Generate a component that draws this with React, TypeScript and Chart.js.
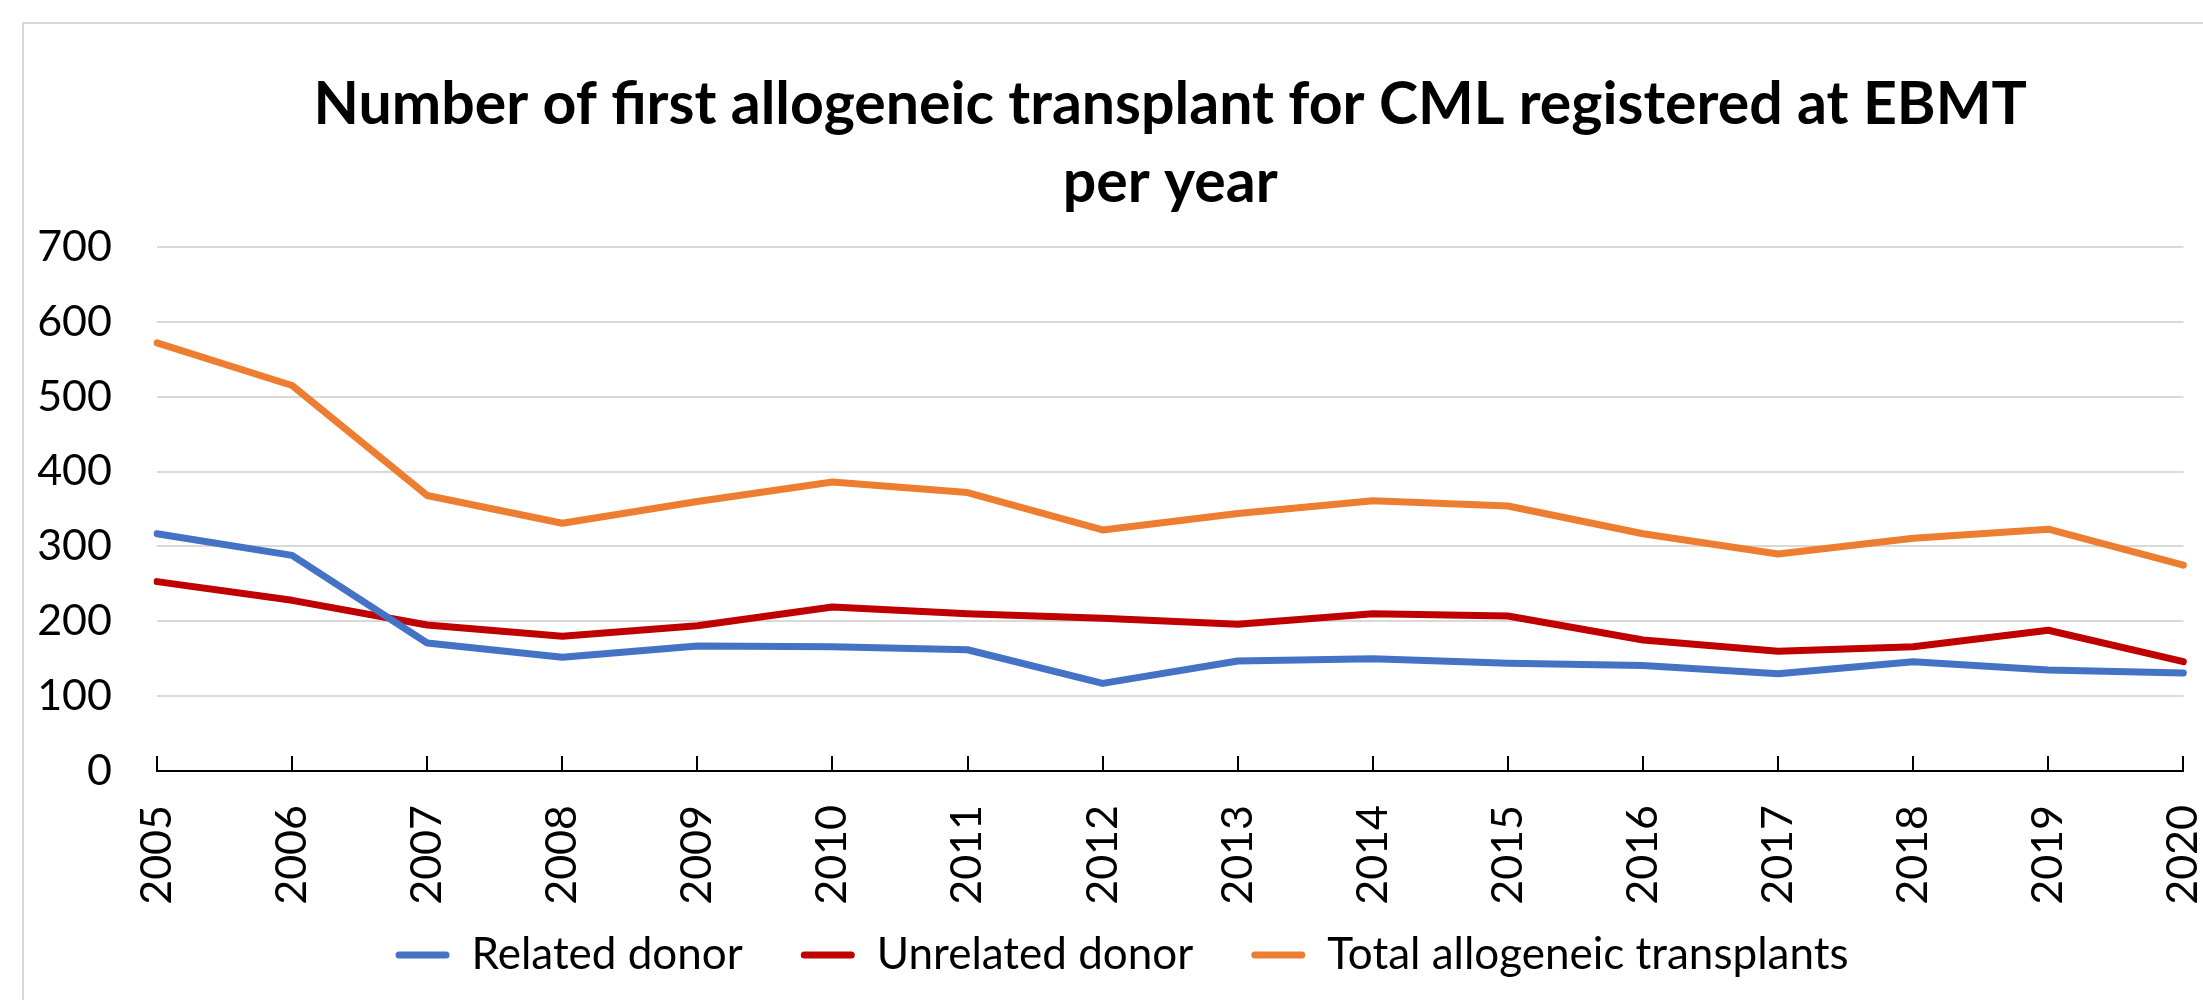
import React, { useEffect, useRef } from "react";
import { Chart, registerables } from "chart.js";

Chart.register(...registerables);

const years = ["2005", "2006", "2007", "2008", "2009", "2010", "2011", "2012", "2013", "2014", "2015", "2016", "2017", "2018", "2019", "2020"];
const relatedDonor = [317, 288, 171, 152, 167, 166, 162, 117, 147, 150, 144, 141, 130, 146, 135, 131];
const unrelatedDonor = [253, 228, 195, 180, 194, 219, 210, 204, 196, 210, 207, 175, 160, 166, 188, 146];
const totalTransplants = [572, 515, 368, 331, 360, 386, 372, 322, 344, 361, 354, 317, 290, 311, 323, 275];
const titleLines = ["Number of first allogeneic transplant for CML registered at EBMT", "per year"];
const seriesNames = ["Related donor", "Unrelated donor", "Total allogeneic transplants"];
const yTicks = [0, 100, 200, 300, 400, 500, 600, 700];

const FONT = "Lato";
const CANVAS_W = 2235;
const CANVAS_H = 1000;

const insideTicks = {
  id: "insideTicks",
  afterDatasetsDraw(chart: any) {
    const xs = chart.scales.x;
    const ctx = chart.ctx;
    const bottom = chart.chartArea.bottom;
    ctx.save();
    ctx.strokeStyle = "#000000";
    ctx.lineWidth = 2;
    xs.ticks.forEach((_t: any, i: number) => {
      const x = Math.round(xs.getPixelForTick(i));
      ctx.beginPath();
      ctx.moveTo(x, bottom);
      ctx.lineTo(x, bottom - 15);
      ctx.stroke();
    });
    ctx.restore();
  },
};

export default function App() {
  const ref = useRef<HTMLCanvasElement | null>(null);

  useEffect(() => {
    if (!ref.current) return;
    const chart = new Chart(ref.current, {
      type: "line",
      data: {
        labels: years,
        datasets: [
          { label: seriesNames[0], data: relatedDonor, borderColor: "#4472C4", backgroundColor: "#4472C4" },
          { label: seriesNames[1], data: unrelatedDonor, borderColor: "#C00000", backgroundColor: "#C00000" },
          { label: seriesNames[2], data: totalTransplants, borderColor: "#ED7D31", backgroundColor: "#ED7D31" },
        ].map((d) => ({
          ...d,
          borderWidth: 7,
          pointRadius: 0,
          pointHoverRadius: 0,
          tension: 0,
          borderJoinStyle: "round" as const,
          borderCapStyle: "round" as const,
          fill: false,
        })),
      },
      options: {
        animation: false,
        responsive: false,
        maintainAspectRatio: false,
        layout: { padding: { left: 9, right: 0, top: 0, bottom: 13 } },
        scales: {
          x: {
            type: "category",
            offset: false,
            grid: { display: false, drawTicks: true, tickLength: 34 },
            border: { display: true, color: "#000000", width: 2 },
            ticks: {
              color: "#000000",
              font: { family: FONT, size: 43, lineHeight: 1.2 },
              padding: 0,
              minRotation: 90,
              maxRotation: 90,
              autoSkip: false,
            },
            afterFit: (s: any) => {
              s.height = 132;
            },
          },
          y: {
            min: yTicks[0],
            max: yTicks[yTicks.length - 1],
            afterBuildTicks: (s: any) => {
              s.ticks = yTicks.map((v) => ({ value: v }));
            },
            grid: { color: "#D9D9D9", lineWidth: 2, drawTicks: false },
            border: { display: false },
            ticks: {
              color: "#000000",
              font: { family: FONT, size: 43 },
              padding: 45,
            },
            afterFit: (s: any) => {
              s.width = 148;
            },
          },
        },
        plugins: {
          title: {
            display: true,
            text: titleLines,
            fullSize: false,
            color: "#000000",
            font: { family: FONT, size: 59, weight: "bold", lineHeight: "78px" },
            padding: { top: 66, bottom: 25 },
          },
          legend: {
            position: "bottom",
            title: {
              display: true,
              text: "",
              font: { family: FONT, size: 1, lineHeight: 0 },
              padding: { top: 0, bottom: -28 },
            },
            labels: {
              color: "#000000",
              font: { family: FONT, size: 44 },
              boxWidth: 54,
              boxHeight: 7,
              padding: 58,
              useBorderRadius: true,
              borderRadius: 3.5,
              generateLabels: (c: any) =>
                Chart.defaults.plugins.legend.labels.generateLabels(c).map((l: any) => ({
                  ...l,
                  lineWidth: 0,
                  fillStyle: l.strokeStyle,
                })),
            },
          },
          tooltip: { enabled: false },
        },
      },
      plugins: [insideTicks],
    });
    return () => chart.destroy();
  }, []);

  return (
    <div style={{ position: "absolute", left: 0, top: 0, width: 2203, height: 1000, background: "#ffffff", overflow: "hidden" }}>
      <div
        style={{
          position: "absolute",
          left: 22,
          top: 22,
          width: 2400,
          height: 1200,
          borderLeft: "2px solid #D9D9D9",
          borderTop: "2px solid #D9D9D9",
        }}
      />
      <canvas
        ref={ref}
        width={CANVAS_W}
        height={CANVAS_H}
        style={{ position: "absolute", left: 0, top: 0, width: CANVAS_W, height: CANVAS_H }}
      />
    </div>
  );
}
